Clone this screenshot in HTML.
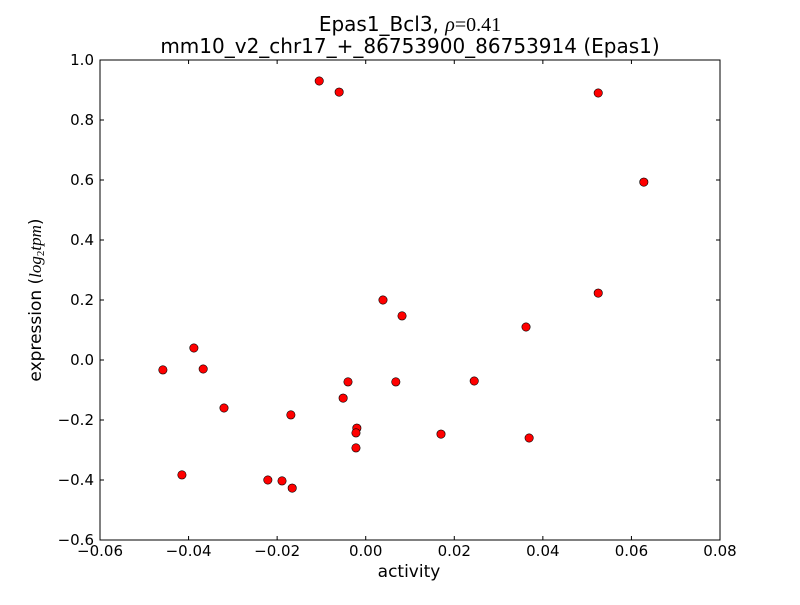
<!DOCTYPE html>
<html><head><meta charset="utf-8"><style>
body{margin:0;background:#fff;}
svg text{font-family:"DejaVu Sans","Liberation Sans",sans-serif;}
</style></head><body>
<svg id="chart" width="800" height="600" xmlns="http://www.w3.org/2000/svg">
<rect width="800" height="600" fill="#fff"/>
<text x="410" y="31" font-size="20" text-anchor="middle">Epas1_Bcl3, <tspan font-family="Liberation Serif,serif" font-style="italic">ρ</tspan><tspan font-family="Liberation Serif,serif">=0.41</tspan></text>
<text x="410" y="53" font-size="20" text-anchor="middle">mm10_v2_chr17_+_86753900_86753914 (Epas1)</text>
<g id="ticks"></g>
<g id="points"></g>
<rect x="100" y="60" width="620" height="480" fill="none" stroke="#000" stroke-width="1"/>
<text x="409" y="577" font-size="17" text-anchor="middle">activity</text>
<text transform="translate(41,300) rotate(-90)" font-size="17" text-anchor="middle">expression (<tspan font-family="Liberation Serif,serif" font-style="italic">log</tspan><tspan font-family="Liberation Serif,serif" font-size="11" dy="3">2</tspan><tspan font-family="Liberation Serif,serif" font-style="italic" dy="-3">tpm</tspan>)</text>
</svg>
<script>
const xVals=[-0.0105,-0.006,0.0525,0.0628,0.0525,0.0039,0.0082,0.0362,-0.0458,-0.0388,-0.0367,-0.032,-0.004,0.0068,0.0245,-0.0051,-0.0169,-0.002,-0.0022,0.017,0.0369,-0.0022,-0.0415,-0.0221,-0.0189,-0.0166];
const yVals=[0.93,0.893,0.89,0.593,0.223,0.2,0.147,0.11,-0.033,0.04,-0.03,-0.16,-0.073,-0.073,-0.07,-0.127,-0.183,-0.227,-0.243,-0.247,-0.26,-0.293,-0.383,-0.4,-0.403,-0.427];
const xTicks=[-0.06,-0.04,-0.02,0.00,0.02,0.04,0.06,0.08];
const xTickLabels=["\u22120.06","\u22120.04","\u22120.02","0.00","0.02","0.04","0.06","0.08"];
const yTicks=[-0.6,-0.4,-0.2,0.0,0.2,0.4,0.6,0.8,1.0];
const yTickLabels=["\u22120.6","\u22120.4","\u22120.2","0.0","0.2","0.4","0.6","0.8","1.0"];
const NS="http://www.w3.org/2000/svg";
const X=v=>100+(v+0.06)/0.14*620;
const Y=v=>540-(v+0.6)/1.6*480;
const tg=document.getElementById('ticks');
function mk(tag,attrs,parent){const e=document.createElementNS(NS,tag);for(const k in attrs)e.setAttribute(k,attrs[k]);parent.appendChild(e);return e;}
xTicks.forEach((t,i)=>{const x=X(t);
 const l1=mk('line',{x1:x,x2:x,y1:540,y2:536,stroke:'#000'},tg);
 
 
 mk('line',{x1:x,x2:x,y1:60,y2:64,stroke:'#000'},tg);
 const tx=mk('text',{x:x,y:556,'font-size':15,'text-anchor':'middle'},tg);tx.textContent=xTickLabels[i];
 
 
});
yTicks.forEach((t,i)=>{const y=Y(t);
 const l1=mk('line',{x1:100,x2:104,y1:y,y2:y,stroke:'#000'},tg);
 
 
 mk('line',{x1:716,x2:720,y1:y,y2:y,stroke:'#000'},tg);
 const tx=mk('text',{x:94,y:y+5,'font-size':15,'text-anchor':'end'},tg);tx.textContent=yTickLabels[i];
 
 
});
const pg=document.getElementById('points');
xVals.forEach((v,i)=>{
 const c=mk('circle',{cx:X(v),cy:Y(yVals[i]),r:4.2,fill:'#ff0000',stroke:'#000','stroke-width':0.6},pg);
 
 
});
</script>
</body></html>
